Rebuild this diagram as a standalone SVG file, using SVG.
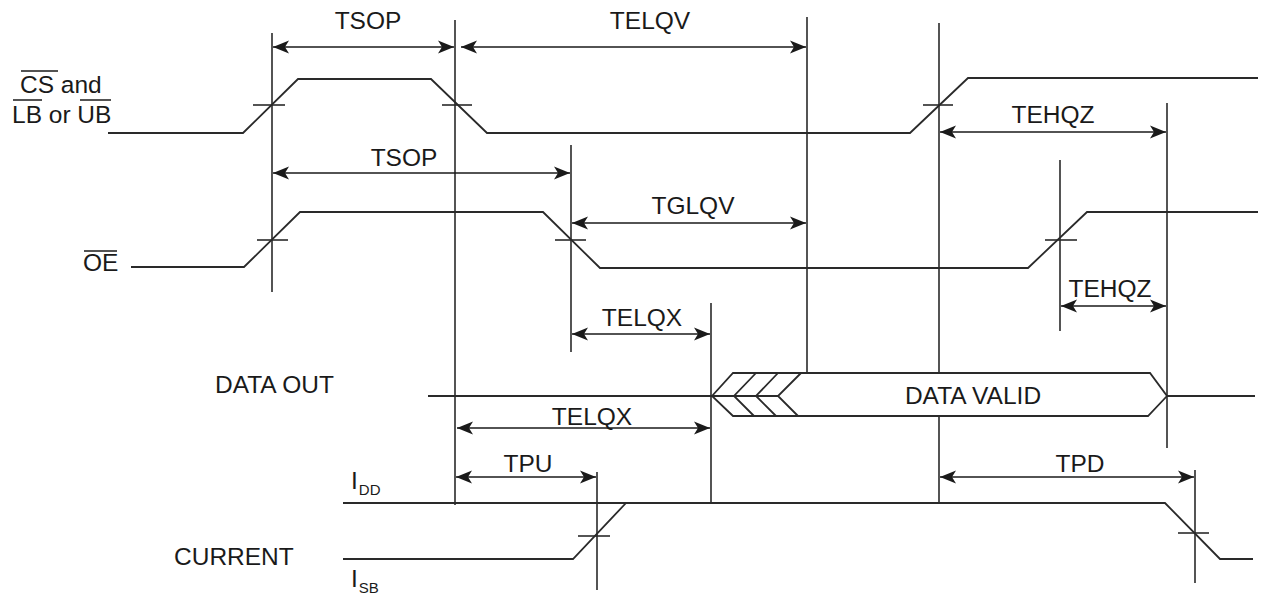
<svg xmlns="http://www.w3.org/2000/svg" width="1262" height="598" viewBox="0 0 1262 598">
  <defs>
    <marker id="ah" markerUnits="userSpaceOnUse" markerWidth="17" markerHeight="14" refX="16" refY="7" orient="auto-start-reverse">
      <path d="M0,0.5 L16,7 L0,13.5 L4,7 Z" fill="#1a1a1a"/>
    </marker>
  </defs>
  <style>
    .sig { fill: none; stroke: #2a2a2a; stroke-width: 1.8; stroke-linejoin: miter; }
    .mark { fill: none; stroke: #2a2a2a; stroke-width: 1.6; }
    .tick { fill: none; stroke: #2a2a2a; stroke-width: 1.6; }
    .dim { fill: none; stroke: #1a1a1a; stroke-width: 1.7; marker-start: url(#ah); marker-end: url(#ah); }
    .bus { fill: #ffffff; stroke: #2a2a2a; stroke-width: 1.8; stroke-linejoin: miter; }
    text { font-family: "Liberation Sans", Arial, Helvetica, sans-serif; font-size: 24.5px; fill: #1a1a1a; }
    .c { text-anchor: middle; }
    .sub { font-size: 15px; }
    .ov { stroke: #1a1a1a; stroke-width: 1.5; }
  </style>
  <rect width="1262" height="598" fill="#ffffff"/>

  <!-- timing reference verticals -->
  <g id="markers">
    <line class="mark" x1="272" y1="33" x2="272" y2="292"/>
    <line class="mark" x1="455" y1="20" x2="455" y2="505"/>
    <line class="mark" x1="807" y1="17" x2="807" y2="373"/>
    <line class="mark" x1="939" y1="23" x2="939" y2="503"/>
    <line class="mark" x1="571" y1="145" x2="571" y2="352"/>
    <line class="mark" x1="1060" y1="160" x2="1060" y2="331"/>
    <line class="mark" x1="1167" y1="103" x2="1167" y2="448"/>
    <line class="mark" x1="711" y1="303" x2="711" y2="503"/>
    <line class="mark" x1="597" y1="472" x2="597" y2="590"/>
    <line class="mark" x1="1195" y1="470" x2="1195" y2="583"/>
  </g>

  <!-- CS and LB or UB signal -->
  <g id="sig-cs">
    <text x="20" y="93">CS and</text>
    <line class="ov" x1="21" y1="71" x2="58" y2="71"/>
    <text x="12" y="123">LB or UB</text>
    <line class="ov" x1="13" y1="100" x2="42" y2="100"/>
    <line class="ov" x1="80" y1="100" x2="111" y2="100"/>
    <polyline class="sig" points="108,133 243,133 298,79 431,79 487,133 910,133 968,78 1258,78"/>
    <line class="tick" x1="253" y1="105" x2="285" y2="105"/>
    <line class="tick" x1="442" y1="105" x2="472" y2="105"/>
    <line class="tick" x1="923" y1="105" x2="953" y2="105"/>
  </g>

  <!-- OE signal -->
  <g id="sig-oe">
    <text x="83" y="271">OE</text>
    <line class="ov" x1="84" y1="251" x2="117" y2="251"/>
    <polyline class="sig" points="131,267 244,267 300,212 543,212 600,268 1028,268 1087,212 1258,212"/>
    <line class="tick" x1="257" y1="240" x2="288" y2="240"/>
    <line class="tick" x1="555" y1="240" x2="586" y2="240"/>
    <line class="tick" x1="1045" y1="240" x2="1077" y2="240"/>
  </g>

  <!-- DATA OUT signal -->
  <g id="sig-data">
    <text x="215" y="393">DATA OUT</text>
    <polygon class="bus" points="712,396 733,373 1150,373 1167,396 1148,416 733,416"/>
    <line class="sig" x1="428" y1="396" x2="778" y2="396"/>
    <polyline class="sig" points="756,373 734,396 754,416"/>
    <polyline class="sig" points="778,373 756,396 776,416"/>
    <polyline class="sig" points="801,373 778,396 798,416"/>
    <line class="sig" x1="1167" y1="396" x2="1255" y2="396"/>
    <text class="c" x="973" y="404">DATA VALID</text>
  </g>

  <!-- CURRENT signal -->
  <g id="sig-current">
    <text x="174" y="565">CURRENT</text>
    <text x="351" y="489">I<tspan class="sub" dx="1" dy="6">DD</tspan></text>
    <text x="351" y="587">I<tspan class="sub" dx="1" dy="6">SB</tspan></text>
    <polyline class="sig" points="343,503 1165,503 1220,559 1253,559"/>
    <polyline class="sig" points="343,559 573,559 626,503"/>
    <line class="tick" x1="578" y1="536" x2="610" y2="536"/>
    <line class="tick" x1="1178" y1="533" x2="1209" y2="533"/>
  </g>

  <!-- dimension arrows -->
  <g id="connectors">
    <line class="dim" x1="273" y1="47" x2="454" y2="47"/>
    <line class="dim" x1="461" y1="47" x2="806" y2="47"/>
    <line class="dim" x1="940" y1="132" x2="1166" y2="132"/>
    <line class="dim" x1="273" y1="173" x2="570" y2="173"/>
    <line class="dim" x1="572" y1="223" x2="806" y2="223"/>
    <line class="dim" x1="1061" y1="306" x2="1166" y2="306"/>
    <line class="dim" x1="572" y1="334" x2="710" y2="334"/>
    <line class="dim" x1="457" y1="428" x2="710" y2="428"/>
    <line class="dim" x1="456" y1="477" x2="596" y2="477"/>
    <line class="dim" x1="940" y1="477" x2="1194" y2="477"/>
  </g>

  <!-- dimension labels -->
  <g id="labels">
    <text class="c" x="368" y="29">TSOP</text>
    <text class="c" x="650" y="29">TELQV</text>
    <text class="c" x="1053" y="123">TEHQZ</text>
    <text class="c" x="404" y="166">TSOP</text>
    <text class="c" x="693" y="214">TGLQV</text>
    <text class="c" x="1110" y="297">TEHQZ</text>
    <text class="c" x="642" y="326">TELQX</text>
    <text class="c" x="592" y="425">TELQX</text>
    <text class="c" x="528" y="472">TPU</text>
    <text class="c" x="1080" y="472">TPD</text>
  </g>
</svg>
